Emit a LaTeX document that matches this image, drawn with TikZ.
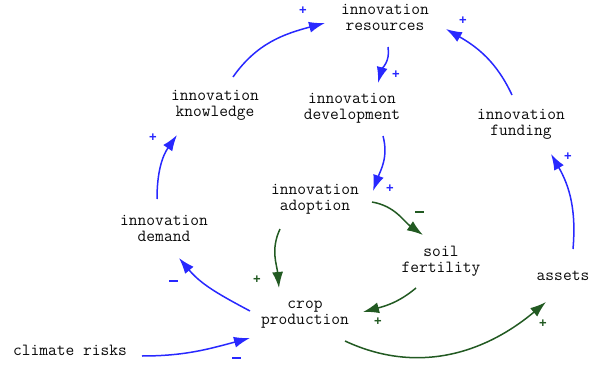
\documentclass[tikz,border=0pt]{standalone}
\usepackage{fontspec}
\newfontfamily\signfont{Liberation Sans}
\usetikzlibrary{arrows.meta,calc}
\definecolor{lblue}{RGB}{40,40,255}
\definecolor{lgreen}{RGB}{34,90,34}
\definecolor{ltext}{RGB}{10,10,10}
\tikzset{
  var/.style={align=center,font=\ttfamily\fontsize{17}{16}\selectfont,text=ltext,inner sep=0pt},
  blink/.style={draw=lblue,line width=1.5pt,-{Latex[length=16pt,width=11pt]}},
  glink/.style={draw=lgreen,line width=1.5pt,-{Latex[length=16pt,width=11pt]}},
  plusb/.style={font=\signfont\bfseries\fontsize{13}{13}\selectfont,text=lblue,inner sep=0pt},
  plusg/.style={font=\signfont\bfseries\fontsize{13}{13}\selectfont,text=lgreen,inner sep=0pt},
  minb/.style={fill=lblue,minimum width=9pt,minimum height=1.5pt,inner sep=0pt},
  ming/.style={fill=lgreen,minimum width=9pt,minimum height=1.5pt,inner sep=0pt}
}
\begin{document}
\begin{tikzpicture}[x=1pt,y=1pt]
\useasboundingbox (0,0) rectangle (590,368);
\node[var] (res) at (385,351) {innovation\\resources};
\node[var] (know) at (215,263) {innovation\\knowledge};
\node[var] (dev) at (352,260) {innovation\\development};
\node[var] (fund) at (521,244) {innovation\\funding};
\node[var] (adopt) at (315,169) {innovation\\adoption};
\node[var] (demand) at (164,140) {innovation\\demand};
\node[var] (soil) at (441,107) {soil\\fertility};
\node[var] (assets) at (563,92) {assets};
\node[var] (crop) at (305,53) {crop\\production};
\node[var] (climate) at (70,18) {climate risks};

% blue links
\draw[blink] ($(know)+(18,28)$) to[out=55,in=195] ($(res)+(-60,-6)$);
\node[plusb] (p1) at (303,357) {+};
\draw[blink] ($(res)+(3,-30)$) to[out=-80,in=75] ($(dev)+(26,25)$);
\node[plusb] (p2) at (396,293) {+};
\draw[blink] ($(dev)+(31,-28)$) to[out=-75,in=70] ($(adopt)+(58,8)$);
\node[plusb] (p3) at (390,179) {+};
\draw[blink] ($(fund)+(-9,29)$) to[out=115,in=-30] ($(res)+(61,-12)$);
\node[plusb] (p4) at (463,347) {+};
\draw[blink] ($(assets)+(10,27)$) to[out=85,in=-60] ($(fund)+(30,-30)$);
\node[plusb] (p5) at (568,211) {+};
\draw[blink] ($(demand)+(-7,29)$) to[out=90,in=235] ($(know)+(-38,-30)$);
\node[plusb] (p6) at (153,230) {+};
\draw[blink] ($(crop)+(-55,4)$) to[out=152,in=-50] ($(demand)+(15,-30)$);
\node[minb] (m1) at (173,87) {};
\draw[blink] ($(climate)+(72,-6)$) to[out=0,in=195] ($(crop)+(-55,-23)$);
\node[minb] (m2) at (236,10) {};

% green links
\draw[glink] ($(adopt)+(-35,-30)$) to[out=-115,in=95] ($(crop)+(-26,27)$);
\node[plusg] (p7) at (257,88) {+};
\draw[glink] ($(adopt)+(57,-3)$) to[out=-10,in=145] ($(soil)+(-18,26)$);
\node[ming] (m3) at (419,156) {};
\draw[glink] ($(soil)+(-25,-27)$) to[out=-140,in=15] ($(crop)+(58,3)$);
\node[plusg] (p8) at (378,46) {+};
\draw[glink] ($(crop)+(40,-26)$) to[out=-25,in=220] ($(assets)+(-17,-26)$);
\node[plusg] (p9) at (543,44) {+};
\end{tikzpicture}
\end{document}
